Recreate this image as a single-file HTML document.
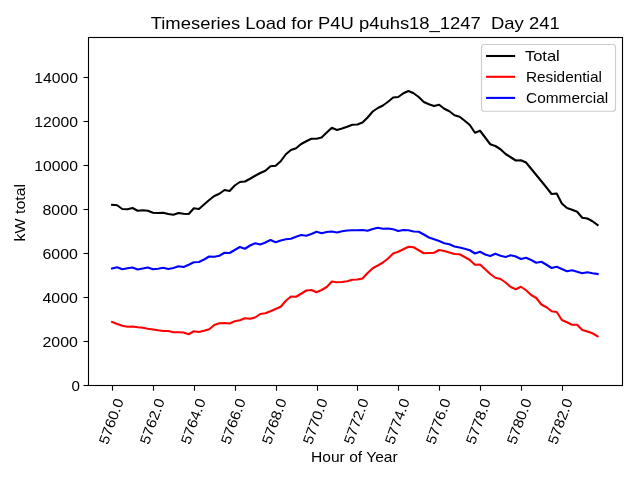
<!DOCTYPE html>
<html><head><meta charset="utf-8"><title>Timeseries Load</title>
<style>html,body{margin:0;padding:0;background:#fff;}body{width:640px;height:480px;overflow:hidden;}svg{display:block;will-change:transform;}text{font-family:"Liberation Sans",sans-serif;fill:#000;}</style></head><body>
<svg width="640" height="480" viewBox="0 0 640 480">
<rect x="0" y="0" width="640" height="480" fill="#ffffff"/>
<g fill="none" stroke-width="2.08" stroke-linejoin="round" stroke-linecap="square">
<polyline stroke="#000000" points="112.07,204.85 117.18,205.25 122.29,209.00 127.40,209.25 132.51,208.00 137.62,210.75 142.73,210.25 147.85,210.75 152.96,212.75 158.07,213.00 163.18,212.75 168.29,214.00 173.40,214.75 178.51,213.00 183.62,213.75 188.73,214.00 193.84,208.25 198.95,209.00 204.06,204.50 209.18,200.00 214.29,196.00 219.40,193.75 224.51,190.00 229.62,191.00 234.73,185.50 239.84,182.00 244.95,181.50 250.06,178.75 255.17,175.75 260.28,173.00 265.39,170.75 270.50,166.25 275.62,165.75 280.73,161.25 285.84,154.25 290.95,150.00 296.06,148.25 301.17,144.00 306.28,141.25 311.39,138.75 316.50,138.75 321.61,137.50 326.72,132.50 331.83,127.75 336.95,130.00 342.06,128.50 347.17,126.75 352.28,124.75 357.39,124.50 362.50,122.50 367.61,117.50 372.72,111.50 377.83,108.00 382.94,105.50 388.05,101.75 393.16,97.50 398.27,97.00 403.39,93.25 408.50,91.00 413.61,93.25 418.72,97.00 423.83,102.00 428.94,104.25 434.05,106.00 439.16,104.75 444.27,108.75 449.38,111.25 454.49,115.25 459.60,116.75 464.72,120.75 469.83,125.00 474.94,132.75 480.05,130.75 485.16,137.50 490.27,144.25 495.38,146.00 500.49,149.25 505.60,154.00 510.71,157.25 515.82,160.50 520.93,160.25 526.04,162.50 531.16,168.75 536.27,175.00 541.38,181.25 546.49,187.50 551.60,194.00 556.71,193.50 561.82,203.50 566.93,208.00 572.04,209.75 577.15,211.75 582.26,217.75 587.37,218.50 592.49,221.25 597.60,225.00"/>
<polyline stroke="#ff0000" points="112.07,322.00 117.18,324.00 122.29,325.75 127.40,326.75 132.51,326.50 137.62,327.25 142.73,327.75 147.85,328.75 152.96,329.50 158.07,330.25 163.18,331.00 168.29,331.00 173.40,332.25 178.51,332.25 183.62,332.50 188.73,334.25 193.84,331.25 198.95,332.00 204.06,330.75 209.18,329.25 214.29,325.00 219.40,323.25 224.51,323.00 229.62,323.50 234.73,321.25 239.84,320.25 244.95,318.25 250.06,318.75 255.17,317.50 260.28,314.00 265.39,313.25 270.50,311.25 275.62,309.00 280.73,306.75 285.84,300.75 290.95,296.50 296.06,296.75 301.17,293.75 306.28,290.50 311.39,290.00 316.50,292.25 321.61,290.00 326.72,287.00 331.83,281.50 336.95,282.25 342.06,282.00 347.17,281.25 352.28,279.75 357.39,279.50 362.50,278.50 367.61,273.00 372.72,268.25 377.83,265.50 382.94,262.50 388.05,258.50 393.16,253.50 398.27,251.75 403.39,249.25 408.50,246.75 413.61,247.25 418.72,250.25 423.83,253.25 428.94,253.00 434.05,252.75 439.16,250.00 444.27,251.00 449.38,252.50 454.49,254.00 459.60,254.25 464.72,257.00 469.83,260.00 474.94,264.75 480.05,264.50 485.16,269.25 490.27,274.00 495.38,277.75 500.49,279.00 505.60,282.50 510.71,287.00 515.82,289.25 520.93,286.75 526.04,290.25 531.16,295.00 536.27,298.00 541.38,304.50 546.49,307.25 551.60,311.25 556.71,312.00 561.82,320.00 566.93,322.25 572.04,324.75 577.15,324.75 582.26,330.00 587.37,331.50 592.49,333.25 597.60,336.25"/>
<polyline stroke="#0000ff" points="112.07,268.50 117.18,267.25 122.29,269.25 127.40,268.25 132.51,267.50 137.62,269.50 142.73,268.50 147.85,267.50 152.96,269.25 158.07,268.75 163.18,267.75 168.29,269.00 173.40,268.00 178.51,266.25 183.62,267.00 188.73,264.75 193.84,262.25 198.95,262.00 204.06,259.50 209.18,256.50 214.29,256.75 219.40,255.75 224.51,252.75 229.62,253.00 234.73,250.00 239.84,247.00 244.95,248.75 250.06,245.50 255.17,243.25 260.28,244.50 265.39,242.50 270.50,240.00 275.62,242.25 280.73,240.50 285.84,239.25 290.95,238.75 296.06,236.75 301.17,235.00 306.28,235.75 311.39,234.00 316.50,231.75 321.61,233.25 326.72,232.00 331.83,231.50 336.95,232.50 342.06,231.25 347.17,230.50 352.28,230.25 357.39,230.25 362.50,230.00 367.61,230.75 372.72,229.00 377.83,227.75 382.94,228.75 388.05,228.50 393.16,229.25 398.27,231.00 403.39,230.00 408.50,230.25 413.61,231.50 418.72,231.75 423.83,234.50 428.94,237.50 434.05,239.25 439.16,241.00 444.27,243.25 449.38,244.25 454.49,246.50 459.60,247.50 464.72,248.75 469.83,250.25 474.94,253.50 480.05,251.75 485.16,254.50 490.27,256.00 495.38,253.75 500.49,255.75 505.60,257.00 510.71,255.25 515.82,256.50 520.93,259.00 526.04,257.75 531.16,260.00 536.27,262.75 541.38,261.75 546.49,264.75 551.60,268.00 556.71,266.75 561.82,269.00 566.93,271.25 572.04,270.25 577.15,271.75 582.26,273.25 587.37,272.25 592.49,273.25 597.60,274.00"/>
</g>
<rect x="88.5" y="37.5" width="534.0" height="348.0" fill="none" stroke="#000" stroke-width="1.11"/>
<g stroke="#000" stroke-width="1.11">
<line x1="83.50" y1="385.50" x2="88.5" y2="385.50"/>
<line x1="83.50" y1="341.50" x2="88.5" y2="341.50"/>
<line x1="83.50" y1="297.50" x2="88.5" y2="297.50"/>
<line x1="83.50" y1="253.50" x2="88.5" y2="253.50"/>
<line x1="83.50" y1="209.50" x2="88.5" y2="209.50"/>
<line x1="83.50" y1="165.50" x2="88.5" y2="165.50"/>
<line x1="83.50" y1="121.50" x2="88.5" y2="121.50"/>
<line x1="83.50" y1="77.50" x2="88.5" y2="77.50"/>
<line x1="112.50" y1="385.5" x2="112.50" y2="390.70"/>
<line x1="153.50" y1="385.5" x2="153.50" y2="390.70"/>
<line x1="194.50" y1="385.5" x2="194.50" y2="390.70"/>
<line x1="235.50" y1="385.5" x2="235.50" y2="390.70"/>
<line x1="276.50" y1="385.5" x2="276.50" y2="390.70"/>
<line x1="317.50" y1="385.5" x2="317.50" y2="390.70"/>
<line x1="357.50" y1="385.5" x2="357.50" y2="390.70"/>
<line x1="398.50" y1="385.5" x2="398.50" y2="390.70"/>
<line x1="439.50" y1="385.5" x2="439.50" y2="390.70"/>
<line x1="480.50" y1="385.5" x2="480.50" y2="390.70"/>
<line x1="521.50" y1="385.5" x2="521.50" y2="390.70"/>
<line x1="562.50" y1="385.5" x2="562.50" y2="390.70"/>
</g>
<g font-size="14.2" text-anchor="end">
<text x="79.8" y="390.50" textLength="8.4" lengthAdjust="spacingAndGlyphs">0</text>
<text x="77.9" y="346.50" textLength="35.4" lengthAdjust="spacingAndGlyphs">2000</text>
<text x="77.9" y="302.50" textLength="35.4" lengthAdjust="spacingAndGlyphs">4000</text>
<text x="77.9" y="258.50" textLength="35.4" lengthAdjust="spacingAndGlyphs">6000</text>
<text x="77.9" y="214.50" textLength="35.4" lengthAdjust="spacingAndGlyphs">8000</text>
<text x="77.9" y="170.50" textLength="43.6" lengthAdjust="spacingAndGlyphs">10000</text>
<text x="77.9" y="126.50" textLength="43.6" lengthAdjust="spacingAndGlyphs">12000</text>
<text x="77.9" y="82.50" textLength="43.6" lengthAdjust="spacingAndGlyphs">14000</text>
</g>
<g font-size="14.2" text-anchor="middle">
<text transform="translate(111.00,421.3) rotate(-70)" x="0" y="5.05" textLength="47.4" lengthAdjust="spacingAndGlyphs">5760.0</text>
<text transform="translate(152.00,421.3) rotate(-70)" x="0" y="5.05" textLength="47.4" lengthAdjust="spacingAndGlyphs">5762.0</text>
<text transform="translate(193.00,421.3) rotate(-70)" x="0" y="5.05" textLength="47.4" lengthAdjust="spacingAndGlyphs">5764.0</text>
<text transform="translate(233.00,421.3) rotate(-70)" x="0" y="5.05" textLength="47.4" lengthAdjust="spacingAndGlyphs">5766.0</text>
<text transform="translate(274.00,421.3) rotate(-70)" x="0" y="5.05" textLength="47.4" lengthAdjust="spacingAndGlyphs">5768.0</text>
<text transform="translate(315.00,421.3) rotate(-70)" x="0" y="5.05" textLength="47.4" lengthAdjust="spacingAndGlyphs">5770.0</text>
<text transform="translate(356.00,421.3) rotate(-70)" x="0" y="5.05" textLength="47.4" lengthAdjust="spacingAndGlyphs">5772.0</text>
<text transform="translate(397.00,421.3) rotate(-70)" x="0" y="5.05" textLength="47.4" lengthAdjust="spacingAndGlyphs">5774.0</text>
<text transform="translate(438.00,421.3) rotate(-70)" x="0" y="5.05" textLength="47.4" lengthAdjust="spacingAndGlyphs">5776.0</text>
<text transform="translate(478.20,421.3) rotate(-70)" x="0" y="5.05" textLength="47.4" lengthAdjust="spacingAndGlyphs">5778.0</text>
<text transform="translate(519.00,421.3) rotate(-70)" x="0" y="5.05" textLength="47.4" lengthAdjust="spacingAndGlyphs">5780.0</text>
<text transform="translate(560.00,421.3) rotate(-70)" x="0" y="5.05" textLength="47.4" lengthAdjust="spacingAndGlyphs">5782.0</text>
</g>
<text x="355.2" y="29.0" font-size="17.0" text-anchor="middle" textLength="409.0" lengthAdjust="spacingAndGlyphs" xml:space="preserve">Timeseries Load for P4U p4uhs18_1247  Day 241</text>
<text x="354.35" y="462.0" font-size="14.2" text-anchor="middle" textLength="86.7" lengthAdjust="spacingAndGlyphs">Hour of Year</text>
<text transform="translate(25.3,212.7) rotate(-90)" font-size="14.2" text-anchor="middle" textLength="57.5" lengthAdjust="spacingAndGlyphs">kW total</text>
<rect x="481.5" y="44.5" width="134" height="66.8" rx="2.8" ry="2.8" fill="#ffffff" fill-opacity="0.8" stroke="#cccccc" stroke-width="1.11"/>
<g stroke-width="2.08" stroke-linecap="square">
<line x1="487.1" y1="56.0" x2="514.1" y2="56.0" stroke="#000"/>
<line x1="487.1" y1="76.8" x2="514.1" y2="76.8" stroke="#f00"/>
<line x1="487.1" y1="97.9" x2="514.1" y2="97.9" stroke="#00f"/>
</g>
<g font-size="14.2">
<text x="524.9" y="61.2" textLength="34.9" lengthAdjust="spacingAndGlyphs">Total</text>
<text x="525.9" y="82.1" textLength="76.0" lengthAdjust="spacingAndGlyphs">Residential</text>
<text x="526.1" y="103.0" textLength="82.1" lengthAdjust="spacingAndGlyphs">Commercial</text>
</g>
</svg></body></html>
